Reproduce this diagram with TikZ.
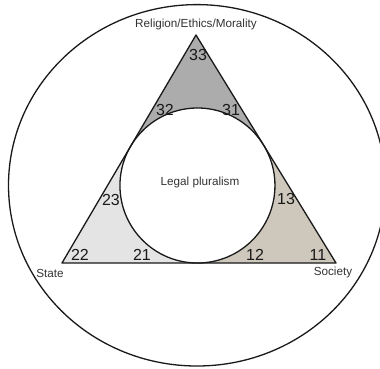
\documentclass[tikz,border=0pt]{standalone}
\usepackage{fontspec}
\setmainfont{Liberation Sans}
\begin{document}
\begin{tikzpicture}[x=1pt,y=-1pt,
  edge/.style={draw=black!90,line width=1.3pt,line join=round},
  num/.style={font=\fontsize{16}{17}\selectfont,text=black!90,inner sep=0pt},
  lbl/.style={font=\fontsize{11.7}{13}\selectfont,text=black!80,inner sep=0pt}]
\definecolor{topgray}{RGB}{172,172,172}
\definecolor{leftgray}{RGB}{228,228,228}
\definecolor{righttan}{RGB}{206,200,188}
\useasboundingbox (0,0) rectangle (380,368);
% geometry
\coordinate (A) at (196,35);
\coordinate (B) at (62,263);
\coordinate (C) at (336,263);
\coordinate (I) at (197.45,185.5);
\coordinate (TL) at (130.6,146.2);
\coordinate (TR) at (263.5,145.0);
\coordinate (TB) at (197.45,263);
% regions
\fill[topgray] (A) -- (TL) -- (I) -- (TR) -- cycle;
\fill[leftgray] (B) -- (TB) -- (I) -- (TL) -- cycle;
\fill[righttan] (C) -- (TR) -- (I) -- (TB) -- cycle;
\fill[white] (I) circle[radius=77.5pt];
\draw[edge] (A) -- (B) -- (C) -- cycle;
\draw[edge] (I) circle[radius=77.5pt];
% outer ellipse
\begin{scope}
\clip (0,0) rectangle (380,368);
\draw[edge] (197,185.3) ellipse[x radius=188.5pt,y radius=180.7pt];
\end{scope}
% labels
\node[lbl] (rel) at (196,24) {Religion/Ethics/Morality};
\node[lbl] (lp) at (200,182) {Legal pluralism};
\node[lbl] (st) at (50,273) {State};
\node[lbl] (so) at (333,272) {Society};
% numbers
\node[num] (n33) at (198,55) {33};
\node[num] (n32) at (165,110) {32};
\node[num] (n31) at (231,110) {31};
\node[num] (n23) at (111,200) {23};
\node[num] (n13) at (286,199) {13};
\node[num] (n22) at (80,255) {22};
\node[num] (n21) at (142,255) {21};
\node[num] (n12) at (255,255) {12};
\node[num] (n11) at (318,255) {11};
\end{tikzpicture}
\end{document}
